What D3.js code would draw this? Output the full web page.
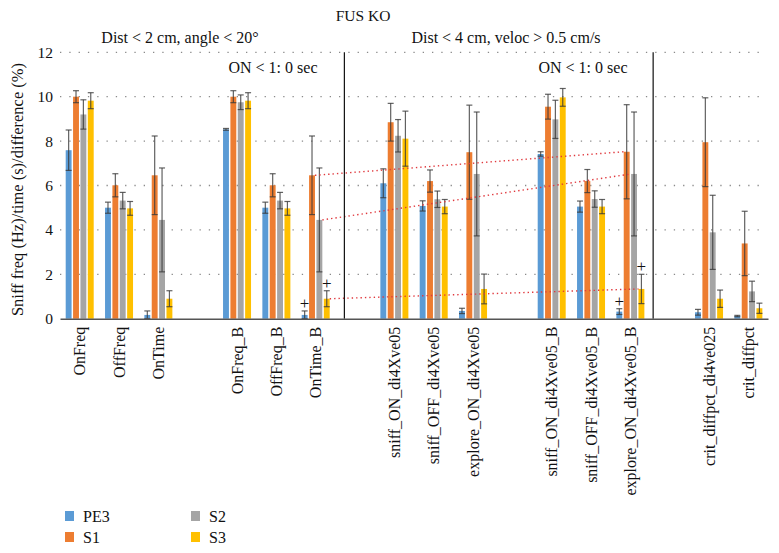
<!DOCTYPE html>
<html>
<head>
<meta charset="utf-8">
<script src="https://cdn.jsdelivr.net/npm/d3@7"></script>
<style>
  html, body { margin: 0; padding: 0; background: #fff; }
  svg { display: block; font-family: "Liberation Serif", "Times New Roman", serif; }
</style>
</head>
<body>
<svg id="chart" width="779" height="553"></svg>
<script>
// ---------------- data ----------------
const categories = ["OnFreq", "OffFreq", "OnTime", "OnFreq_B", "OffFreq_B", "OnTime_B",
  "sniff_ON_di4Xve05", "sniff_OFF_di4Xve05", "explore_ON_di4Xve05",
  "sniff_ON_di4Xve05_B", "sniff_OFF_di4Xve05_B", "explore_ON_di4Xve05_B",
  "crit_diffpct_di4ve025", "crit_diffpct"];
const gapAfter = [2, 5, 8, 11];           // an empty slot follows these categories
const seriesNames = ["PE3", "S1", "S2", "S3"];
const seriesColors = ["#5b9bd5", "#ed7d31", "#a5a5a5", "#ffc000"];

const pe3    = [7.59, 5.00, 0.17, 8.53, 5.00, 0.17, 6.10, 5.08, 0.35, 7.42, 5.05, 0.32, 0.29, 0.12];
const pe3Err = [0.91, 0.25, 0.18, 0.04, 0.25, 0.18, 0.65, 0.23, 0.12, 0.10, 0.25, 0.13, 0.13, 0.03];
const s1     = [10.0, 6.01, 6.46, 10.0, 6.01, 6.46, 8.85, 6.20, 7.50, 9.55, 6.20, 7.52, 7.95, 3.39];
const s1Err  = [0.27, 0.52, 1.77, 0.27, 0.52, 1.77, 0.85, 0.50, 2.12, 0.56, 0.52, 2.12, 2.00, 1.45];
const s2     = [9.20, 5.32, 4.45, 9.75, 5.32, 4.45, 8.24, 5.38, 6.52, 8.98, 5.39, 6.52, 3.89, 1.23];
const s2Err  = [0.66, 0.37, 2.34, 0.33, 0.37, 2.34, 0.73, 0.37, 2.79, 0.86, 0.37, 2.79, 1.67, 0.46];
const s3     = [9.82, 4.97, 0.90, 9.82, 4.97, 0.90, 8.11, 5.05, 1.34, 9.97, 5.05, 1.34, 0.90, 0.47];
const s3Err  = [0.36, 0.31, 0.36, 0.36, 0.31, 0.36, 1.24, 0.32, 0.67, 0.40, 0.32, 0.66, 0.39, 0.23];

const yTicks = [0, 2, 4, 6, 8, 10, 12];
const yLabel = "Sniff freq (Hz)/time (s)/difference (%)";
const mainTitle = "FUS KO";
const sectionTitles = ["Dist < 2 cm, angle < 20°", "Dist < 4 cm, veloc > 0.5 cm/s"];
const subTitle = "ON < 1: 0 sec";
const separatorSlots = [7.23, 15.08];     // vertical separators, in slot units
const links = [                             // red dotted connectors
  { from: "OnTime_B", to: "explore_ON_di4Xve05_B", series: "S1" },
  { from: "OnTime_B", to: "explore_ON_di4Xve05_B", series: "S2" },
  { from: "OnTime_B", to: "explore_ON_di4Xve05_B", series: "S3" }
];
const plusMarks = [
  { cat: "OnTime_B", series: "PE3" }, { cat: "OnTime_B", series: "S3" },
  { cat: "explore_ON_di4Xve05_B", series: "PE3" }, { cat: "explore_ON_di4Xve05_B", series: "S3" }
];

// ---------------- build ----------------
const values = [pe3, s1, s2, s3];
const errors = [pe3Err, s1Err, s2Err, s3Err];
const slots = [];
categories.forEach((c, i) => { slots.push(c); if (gapAfter.includes(i)) slots.push("__gap" + i); });

const svg = d3.select("#chart");
const plotLeft = 60, plotRight = 768, plotTop = 52.3, plotBottom = 318.7;

const x = d3.scaleBand().domain(slots).range([plotLeft, plotRight]).padding(0);
const xs = d3.scaleBand().domain(seriesNames).range([5.7, 33.7]).paddingInner(0.2);
const slotLin = d3.scaleLinear().domain([0, slots.length]).range([plotLeft, plotRight]);
const y = d3.scaleLinear().domain([0, 12]).range([plotBottom, plotTop]);

const data = [];
categories.forEach((c, i) => seriesNames.forEach((s, j) => {
  data.push({ cat: c, series: s, color: seriesColors[j], v: values[j][i], e: errors[j][i] });
}));
const find = (c, s) => data.find(d => d.cat === c && d.series === s);

// gridlines
svg.append("g").selectAll("line").data(yTicks.filter(t => t > 0)).join("line")
  .attr("x1", plotLeft).attr("x2", 766)
  .attr("y1", d => y(d)).attr("y2", d => y(d))
  .attr("stroke", "#8a8a8a").attr("stroke-width", 1.3)
  .attr("stroke-dasharray", "1.3,8");

// bars
svg.append("g").selectAll("rect").data(data).join("rect")
  .attr("x", d => x(d.cat) + xs(d.series))
  .attr("width", xs.bandwidth())
  .attr("y", d => y(d.v))
  .attr("height", d => y(0) - y(d.v))
  .attr("fill", d => d.color);

// error bars
const eg = svg.append("g").attr("stroke", "#3a3a3a").attr("stroke-opacity", 0.8).attr("stroke-width", 1.2);
data.forEach(d => {
  const cx = x(d.cat) + xs(d.series) + xs.bandwidth() / 2;
  const y1 = y(d.v + d.e), y2 = y(Math.max(0, d.v - d.e));
  eg.append("line").attr("x1", cx).attr("x2", cx).attr("y1", y1).attr("y2", y2);
  eg.append("line").attr("x1", cx - 3).attr("x2", cx + 3).attr("y1", y1).attr("y2", y1);
  eg.append("line").attr("x1", cx - 3).attr("x2", cx + 3).attr("y1", y2).attr("y2", y2);
});

// red dotted connectors
svg.append("g").selectAll("line").data(links).join("line")
  .attr("x1", d => x(d.from) + xs(d.series) + xs.bandwidth())
  .attr("y1", d => y(find(d.from, d.series).v))
  .attr("x2", d => x(d.to) + xs(d.series))
  .attr("y2", d => y(find(d.to, d.series).v))
  .attr("stroke", "#e0393e").attr("stroke-width", 1.4)
  .attr("stroke-dasharray", "1.4,3");

// plus marks
svg.append("g").selectAll("text").data(plusMarks).join("text")
  .attr("x", d => x(d.cat) + xs(d.series) + xs.bandwidth() / 2)
  .attr("y", d => { const p = find(d.cat, d.series); return y(p.v + p.e) - 8; })
  .attr("dy", "0.35em")
  .attr("text-anchor", "middle")
  .attr("font-size", 17)
  .attr("fill", "#111")
  .text("+");

// separators
svg.append("g").selectAll("line").data(separatorSlots).join("line")
  .attr("x1", d => slotLin(d)).attr("x2", d => slotLin(d))
  .attr("y1", y(12)).attr("y2", y(0))
  .attr("stroke", "#111").attr("stroke-width", 1.2);

// x axis
const xAxis = svg.append("g").attr("transform", `translate(0,${y(0)})`)
  .call(d3.axisBottom(x).tickSize(0).tickSizeOuter(0)
    .tickFormat(d => d.startsWith("__gap") ? "" : d));
xAxis.select(".domain").attr("stroke", "#555").attr("stroke-width", 1.6);
xAxis.selectAll("text")
  .attr("font-family", "Liberation Serif, Times New Roman, serif")
  .attr("font-size", 16).attr("fill", "#111")
  .attr("transform", "rotate(-90)")
  .attr("text-anchor", "end")
  .attr("x", -8).attr("y", 0).attr("dy", "0.35em");

// y axis
const yAxis = svg.append("g").attr("transform", `translate(57,0)`)
  .call(d3.axisLeft(y).tickValues(yTicks).tickSize(0).tickPadding(4));
yAxis.select(".domain").remove();
yAxis.selectAll("text")
  .attr("font-family", "Liberation Serif, Times New Roman, serif")
  .attr("font-size", 15.5).attr("fill", "#111");

// y label
svg.append("text")
  .attr("transform", `translate(23,${(plotTop + plotBottom) / 2 + 4}) rotate(-90)`)
  .attr("text-anchor", "middle")
  .attr("font-size", 16.5).attr("fill", "#111")
  .text(yLabel);

// titles
svg.append("text").attr("x", 363).attr("y", 21).attr("text-anchor", "middle")
  .attr("font-size", 15.5).attr("fill", "#111").text(mainTitle);
svg.append("text").attr("x", 180).attr("y", 43).attr("text-anchor", "middle")
  .attr("font-size", 16).attr("fill", "#111").text(sectionTitles[0]);
svg.append("text").attr("x", 506).attr("y", 43).attr("text-anchor", "middle")
  .attr("font-size", 16).attr("fill", "#111").text(sectionTitles[1]);
svg.append("text").attr("x", 273).attr("y", 73).attr("text-anchor", "middle")
  .attr("font-size", 16).attr("fill", "#111").text(subTitle);
svg.append("text").attr("x", 583).attr("y", 73).attr("text-anchor", "middle")
  .attr("font-size", 16).attr("fill", "#111").text(subTitle);

// legend
const legendPos = [[65, 511], [65, 532], [191, 511], [191, 532]];
const lg = svg.append("g").selectAll("g").data(seriesNames).join("g")
  .attr("transform", (d, i) => `translate(${legendPos[i][0]},${legendPos[i][1]})`);
lg.append("rect").attr("width", 9).attr("height", 10).attr("fill", (d, i) => seriesColors[i]);
lg.append("text").attr("x", 18).attr("y", 10.5).attr("font-size", 16).attr("fill", "#111").text(d => d);
</script>
</body>
</html>
